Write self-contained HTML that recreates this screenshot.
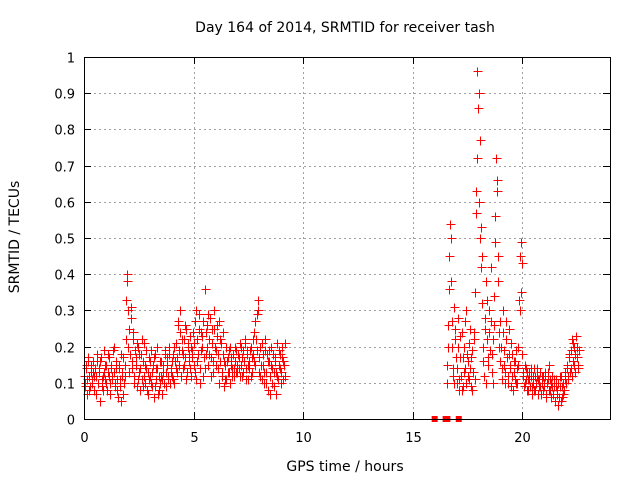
<!DOCTYPE html>
<html><head><meta charset="utf-8"><style>
body{margin:0;background:#fff}
svg{display:block;font-family:"DejaVu Sans","Liberation Sans",sans-serif}
</style></head><body>
<svg id="chart" width="640" height="480" viewBox="0 0 640 480">
<rect width="640" height="480" fill="#fff"/>
<text x="345" y="32" font-size="14" text-anchor="middle">Day 164 of 2014, SRMTID for receiver tash</text>
<text x="345" y="471" font-size="14" text-anchor="middle">GPS time / hours</text>
<text transform="translate(19,237) rotate(-90)" font-size="14" text-anchor="middle">SRMTID / TECUs</text>
<g id="grid"></g>
<g id="ticks"></g>
<g id="marks"></g>
<rect x="84.5" y="57.5" width="526" height="362" fill="none" stroke="#000" stroke-width="1"/>
</svg>
<script>
const xTicks=[0,5,10,15,20];
const yTicks=[0,0.1,0.2,0.3,0.4,0.5,0.6,0.7,0.8,0.9,1];
const yTickLabels=["0","0.1","0.2","0.3","0.4","0.5","0.6","0.7","0.8","0.9","1"];
const segAStart=0, segBStart=16.55, step=0.05;
const segA1=[.12,.09,.15,.11,.17,.08,.13,.10,.16,.12,.14,.07,.18,.10,.13,.16,.09,.12,.19,.11,.15,.08,.13,.17,.10,.14,.12,.20,.09,.16,.11,.06,.14,.09,.18,.12,.07,.15,.22,.38,.30,.25,.18,.31,.14,.22,.12,.17,.09,.20,.13,.08,.18,.11,.16,.21,.10,.14,.07,.17,.12,.19,.09,.15,.06,.18,.11,.14,.08,.16,.12,.07,.15,.10,.19,.13,.17,.11,.20,.14,.12,.18,.10,.16,.21,.13,.27,.15,.24,.19,.14,.22,.17,.25,.13,.20,.16,.23,.12,.19,.15,.27,.11,.22,.18,.29,.14,.24,.20,.12,.36,.18,.26,.15,.22,.28,.17,.21,.13,.25,.19,.23,.14,.27,.16,.21,.12,.18,.09,.15,.11,.17,.13,.20,.15,.12,.18,.14,.16,.19,.13,.17,.21,.15,.12,.19,.16,.22,.14,.18,.11,.16,.20,.13,.18,.24,.15,.22,.29,.33,.17,.12,.21,.15,.10,.19,.13,.18,.08,.16,.12,.20,.14,.09,.17,.13,.21,.11,.15,.18,.13,.20,.16,.12];
const segA2=[.10,.14,.07,.16,.12,.09,.15,.11,.13,.08,.12,.16,.10,.14,.05,.17,.11,.08,.13,.15,.10,.18,.12,.07,.15,.11,.19,.13,.10,.14,.08,.15,.11,.05,.13,.17,.10,.12,.33,.40,.20,.13,.28,.16,.24,.10,.19,.15,.21,.11,.18,.14,.22,.09,.12,.15,.19,.08,.13,.11,.16,.10,.13,.17,.09,.14,.20,.07,.12,.10,.16,.11,.13,.18,.09,.15,.12,.18,.10,.13,.16,.11,.20,.14,.17,.26,.19,.30,.12,.22,.18,.15,.26,.11,.21,.18,.14,.20,.17,.24,.21,.13,.30,.16,.25,.10,.19,.23,.27,.17,.14,.24,.20,.29,.18,.12,.25,.16,.30,.20,.15,.26,.18,.10,.22,.13,.24,.16,.11,.20,.16,.13,.19,.10,.17,.14,.12,.20,.13,.15,.18,.14,.12,.20,.17,.13,.21,.11,.19,.15,.14,.19,.12,.17,.22,.16,.27,.19,.30,.13,.20,.15,.11,.18,.13,.22,.10,.16,.19,.07,.15,.10,.18,.13,.16,.07,.12,.19,.14,.10,.17,.11,.15,.21];
const segB1=[.15,.26,.45,.54,.38,.20,.12,.31,.22,.10,.28,.08,.17,.12,.24,.09,.20,.14,.30,.16,.11,.25,.09,.19,.13,.22,.35,.63,.96,.90,.77,.53,.45,.20,.12,.28,.38,.22,.15,.30,.42,.18,.10,.26,.49,.72,.63,.38,.20,.27,.14,.30,.19,.10,.22,.17,.12,.25,.15,.09,.18,.13,.16,.10,.14,.20,.33,.45,.49,.18,.12,.10,.14,.08,.11,.13,.09,.12,.07,.10,.14,.08,.12,.11,.09,.13,.07,.10,.12,.09,.13,.06,.11,.15,.08,.10,.12,.07,.09,.05,.11,.08,.04,.09,.12,.06,.10,.08,.13,.10,.15,.12,.18,.14,.22,.16,.20,.13,.23,.17,.15];
const segB2=[.10,.20,.36,.50,.27,.14,.10,.25,.17,.14,.20,.11,.23,.08,.17,.13,.27,.10,.18,.12,.21,.14,.17,.08,.24,.11,.57,.72,.86,.60,.50,.42,.32,.16,.25,.10,.33,.17,.24,.19,.27,.13,.22,.34,.56,.66,.45,.24,.16,.20,.11,.24,.15,.13,.27,.10,.18,.14,.21,.12,.08,.16,.11,.19,.10,.15,.30,.35,.43,.13,.09,.15,.11,.13,.08,.11,.14,.09,.12,.08,.12,.10,.14,.07,.11,.09,.12,.08,.10,.12,.07,.10,.13,.08,.11,.06,.09,.11,.05,.09,.07,.10,.06,.12,.05,.09,.07,.11,.10,.14,.11,.17,.13,.19,.12,.21,.15,.18,.20,.14,.19];
const zeroTimes=[16.0,16.5,16.58,17.1];
const zeroValues=[0,0,0,0];

const X0=84,X1=610,Y0=419,Y1=57;
const sx=t=>X0+t/24*(X1-X0);
const sy=v=>Y0-v*(Y0-Y1);
const NS="http://www.w3.org/2000/svg";
function mk(tag,attrs,parent){const e=document.createElementNS(NS,tag);for(const k in attrs)e.setAttribute(k,attrs[k]);parent.appendChild(e);return e;}
const grid=document.getElementById('grid'),ticks=document.getElementById('ticks'),marks=document.getElementById('marks');
yTicks.forEach((v,i)=>{const y=Math.round(sy(v))+0.5;
 if(v>0&&v<1){const g=mk('line',{x1:X0,x2:X1,y1:y,y2:y,stroke:'#a0a0a0','stroke-dasharray':'2,3'},grid);
 
 }
 mk('line',{x1:X0,x2:X0+7,y1:y,y2:y,stroke:'#000'},ticks);
 mk('line',{x1:X1,x2:X1-7,y1:y,y2:y,stroke:'#000'},ticks);
 const t=mk('text',{x:X0-9,y:y+5,'font-size':13,'text-anchor':'end'},ticks);t.textContent=yTickLabels[i];
 
 
});
xTicks.forEach(v=>{const x=Math.round(sx(v))+0.5;
 if(v>0){const g=mk('line',{x1:x,x2:x,y1:Y0,y2:Y1,stroke:'#a0a0a0','stroke-dasharray':'2,3'},grid);
 
 }
 mk('line',{x1:x,x2:x,y1:Y0,y2:Y0-7,stroke:'#000'},ticks);
 mk('line',{x1:x,x2:x,y1:Y1,y2:Y1+7,stroke:'#000'},ticks);
 const t=mk('text',{x:x,y:Y0+23,'font-size':13,'text-anchor':'middle'},ticks);t.textContent=String(v);
 
 
});
let d='';
function plus(t,v){const x=Math.round(sx(t))+0.5,y=Math.round(sy(v))+0.5;d+=`M${x-4} ${y}h9M${x} ${y-4}v9`;}
segA1.forEach((v,i)=>plus(segAStart+i*step,v));
segA2.forEach((v,i)=>plus(segAStart+i*step+0.025,v));
segB1.forEach((v,i)=>plus(segBStart+i*step,v));
segB2.forEach((v,i)=>plus(segBStart+i*step+0.025,v));
const p=mk('path',{d:d,stroke:'#ff0000','stroke-width':1.4,fill:'none','shape-rendering':'crispEdges'},marks);


zeroTimes.forEach((t,i)=>{const r=mk('rect',{x:sx(t)-3,y:sy(zeroValues[i])-3,width:6,height:6,fill:'#ff0000'},marks);
 
 });
</script>
</body></html>
